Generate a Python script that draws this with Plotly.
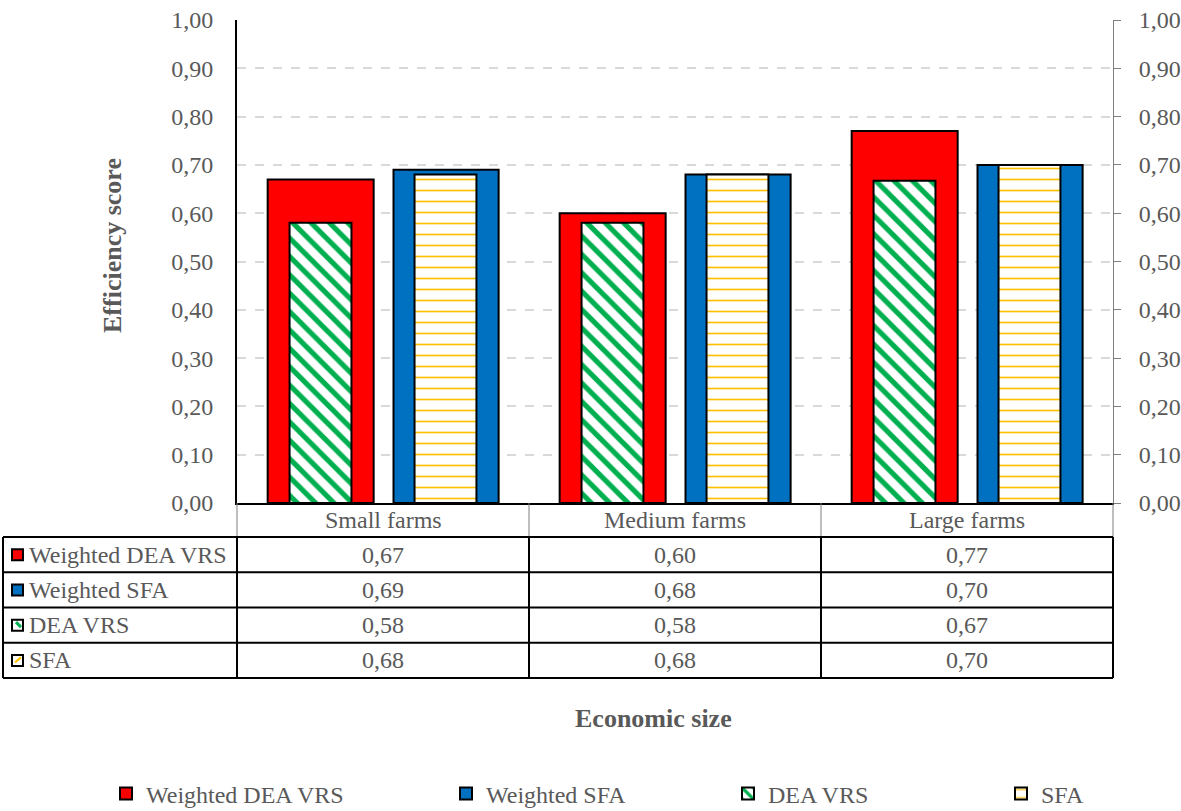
import plotly.graph_objects as go

# ---------------- data ----------------
categories = ["Small farms", "Medium farms", "Large farms"]
weighted_dea_vrs = [0.67, 0.60, 0.77]
weighted_sfa = [0.69, 0.68, 0.70]
dea_vrs = [0.58, 0.58, 0.667]
sfa = [0.68, 0.68, 0.70]
series_names = ["Weighted DEA VRS", "Weighted SFA", "DEA VRS", "SFA"]
y_ticks = [0.0, 0.1, 0.2, 0.3, 0.4, 0.5, 0.6, 0.7, 0.8, 0.9, 1.0]

# ---------------- layout constants ----------------
W, H = 1181, 811
L, R, T, B = 237, 68, 20, 308
PW = W - L - R
PH = H - T - B
FONT = "Liberation Serif, Times New Roman, serif"
GREY = "#595959"
FS = 24
TFS = 26

def px_x(px):
    return (px - L) / PW

def px_y(py):
    return (H - B - py) / PH

RED = "#FF0000"
BLUE = "#0070C0"
GREEN = "#00B050"
GOLD = "#FFC000"

fig = go.Figure()

fig.add_trace(go.Bar(
    name=series_names[0], x=categories, y=weighted_dea_vrs,
    width=0.363, offset=-0.395,
    marker=dict(color=RED, line=dict(color="black", width=2)),
    legend="legend",
))
fig.add_trace(go.Bar(
    name=series_names[1], x=categories, y=weighted_sfa,
    width=0.36, offset=0.036,
    marker=dict(color=BLUE, line=dict(color="black", width=2)),
    legend="legend2",
))
fig.add_trace(go.Bar(
    name=series_names[2], x=categories, y=dea_vrs,
    width=0.212, offset=-0.32,
    marker=dict(color="white", line=dict(color="black", width=2),
                pattern=dict(shape="\\", fgcolor=GREEN, bgcolor="white", fgopacity=1,
                             size=13, solidity=0.4, fillmode="replace")),
    legend="legend3",
))
fig.add_trace(go.Bar(
    name=series_names[3], x=categories, y=sfa,
    width=0.212, offset=0.108,
    marker=dict(color="white", line=dict(color="black", width=2),
                pattern=dict(shape="-", fgcolor=GOLD, bgcolor="white", fgopacity=1,
                             size=11, solidity=0.15, fillmode="replace")),
    legend="legend4",
))

# invisible helper trace on the right axis
fig.add_trace(go.Scatter(x=categories, y=weighted_sfa, yaxis="y2",
                         mode="markers", marker=dict(opacity=0),
                         showlegend=False, hoverinfo="skip"))

# ---------------- table (data table below the axis) ----------------
shapes = []
row_edges = [537, 572.25, 607.5, 642.75, 678]
col_edges = [L, L + PW / 3, L + 2 * PW / 3, L + PW]
left_edge = 3
# header row verticals (thin grey)
for cx in col_edges:
    shapes.append(dict(type="line", xref="paper", yref="paper",
                       x0=px_x(cx), x1=px_x(cx), y0=px_y(H - B), y1=px_y(row_edges[0]),
                       line=dict(color="#7F7F7F", width=1)))
# horizontal lines
for ry in row_edges:
    shapes.append(dict(type="line", xref="paper", yref="paper",
                       x0=px_x(left_edge), x1=px_x(L + PW), y0=px_y(ry), y1=px_y(ry),
                       line=dict(color="black", width=2)))
# body verticals
for cx in [left_edge] + col_edges:
    shapes.append(dict(type="line", xref="paper", yref="paper",
                       x0=px_x(cx), x1=px_x(cx), y0=px_y(row_edges[0]), y1=px_y(row_edges[-1]),
                       line=dict(color="black", width=2)))

annotations = []
# header row: category names
for j, c in enumerate(categories):
    annotations.append(dict(text=c, xref="x", yref="paper", x=j, y=px_y(520),
                            xanchor="center", yanchor="middle", showarrow=False,
                            font=dict(family=FONT, size=FS, color=GREY)))

table_rows = [weighted_dea_vrs, weighted_sfa, dea_vrs, sfa]
key_colors = [RED, BLUE, "white", "white"]
for i, (name, vals) in enumerate(zip(series_names, table_rows)):
    yc = (row_edges[i] + row_edges[i + 1]) / 2
    # key square
    shapes.append(dict(type="rect", xref="paper", yref="paper",
                       x0=px_x(12), x1=px_x(23), y0=px_y(yc - 5.5), y1=px_y(yc + 5.5),
                       fillcolor=key_colors[i], line=dict(color="black", width=2)))
    if i == 2:
        shapes.append(dict(type="line", xref="paper", yref="paper",
                           x0=px_x(16), x1=px_x(21), y0=px_y(yc - 3), y1=px_y(yc + 2),
                           line=dict(color=GREEN, width=3)))
    if i == 3:
        shapes.append(dict(type="line", xref="paper", yref="paper",
                           x0=px_x(15), x1=px_x(21), y0=px_y(yc + 2), y1=px_y(yc - 3),
                           line=dict(color=GOLD, width=2)))
    annotations.append(dict(text=name, xref="paper", yref="paper",
                            x=px_x(27), y=px_y(yc), xanchor="left", yanchor="middle",
                            showarrow=False, font=dict(family=FONT, size=FS, color=GREY)))
    for j, v in enumerate(vals):
        annotations.append(dict(text=f"{v:.2f}".replace(".", ","), xref="x", yref="paper",
                                x=j, y=px_y(yc), xanchor="center", yanchor="middle",
                                showarrow=False, font=dict(family=FONT, size=FS, color=GREY)))

# axis titles
annotations.append(dict(text="<b>Efficiency score</b>", xref="paper", yref="paper",
                        x=px_x(112), y=px_y(246), textangle=-90, showarrow=False,
                        xanchor="center", yanchor="middle",
                        font=dict(family=FONT, size=TFS, color=GREY)))
annotations.append(dict(text="<b>Economic size</b>", xref="paper", yref="paper",
                        x=px_x(653), y=px_y(718), showarrow=False,
                        xanchor="center", yanchor="middle",
                        font=dict(family=FONT, size=TFS, color=GREY)))

legend_common = dict(orientation="h", yanchor="middle", xanchor="left",
                     xref="container", yref="container",
                     y=1 - 794 / H, font=dict(family=FONT, size=FS, color=GREY),
                     bgcolor="rgba(0,0,0,0)")
legend_x_px = [106, 446, 728, 1001]

fig.update_layout(
    width=W, height=H,
    margin=dict(l=L, r=R, t=T, b=B, autoexpand=False),
    paper_bgcolor="white", plot_bgcolor="white",
    barmode="overlay",
    separators=", ",
    font=dict(family=FONT, size=FS, color=GREY),
    xaxis=dict(
        type="category", showline=True, linecolor="black", linewidth=2,
        ticks="", showgrid=False, showticklabels=False, automargin=False,
        range=[-0.5, 2.5],
    ),
    yaxis=dict(
        range=[0, 1], tickvals=y_ticks, tickformat=".2f", automargin=False,
        showline=True, linecolor="black", linewidth=2, ticks="",
        showgrid=True, gridcolor="#D9D9D9", griddash="dash", gridwidth=1.5,
        tickfont=dict(family=FONT, size=FS, color=GREY), ticklabelstandoff=17,
        zeroline=False,
    ),
    yaxis2=dict(
        range=[0, 1], tickvals=y_ticks, tickformat=".2f", overlaying="y", side="right",
        showline=True, linecolor="#7F7F7F", linewidth=1, ticks="outside", ticklen=7,
        tickcolor="#7F7F7F", showgrid=False, zeroline=False, automargin=False,
        tickfont=dict(family=FONT, size=FS, color=GREY), ticklabelstandoff=13,
    ),
    legend=dict(legend_common, x=legend_x_px[0] / W),
    legend2=dict(legend_common, x=legend_x_px[1] / W),
    legend3=dict(legend_common, x=legend_x_px[2] / W),
    legend4=dict(legend_common, x=legend_x_px[3] / W),
    shapes=shapes,
    annotations=annotations,
)

fig.write_html("out.html", config={"displayModeBar": False},
               post_script="document.body.style.margin='0';document.body.style.padding='0';")
